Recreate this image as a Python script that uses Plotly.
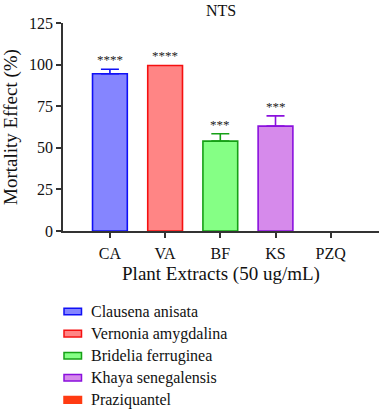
import plotly.graph_objects as go

categories = ["CA", "VA", "BF", "KS", "PZQ"]
names = ["Clausena anisata", "Vernonia amygdalina", "Bridelia ferruginea",
         "Khaya senegalensis", "Praziquantel"]
values = [94.5, 99.5, 54.0, 63.0, 0.0]
errors = [2.7, 0.0, 4.4, 6.2, 0.0]
stars = ["****", "****", "***", "***", ""]
fills = ["#8585FF", "#FF8585", "#85FF85", "#D68AEB", "#FF3B12"]
lines = ["#1010F5", "#F51010", "#16A016", "#8A10DD", "#FF3B12"]
y_ticks = [0, 25, 50, 75, 100, 125]

FONT = "Liberation Serif, Times New Roman, serif"
W, H = 379, 410
ML, MR, MT, MB = 63, 0, 23, 179
PW, PH = W - ML - MR, H - MT - MB

def px_x(px):
    return (px - ML) / PW

def px_y(py):
    return (H - MB - py) / PH

fig = go.Figure()
for i, c in enumerate(categories):
    fig.add_trace(go.Bar(
        x=[c], y=[values[i]], name=names[i], width=0.63,
        marker=dict(color=fills[i],
                    line=dict(color=lines[i], width=1.6 if values[i] > 0 else 0)),
        error_y=dict(type="data", array=[errors[i]], arrayminus=[0],
                     color=lines[i], thickness=1.6, width=9,
                     visible=errors[i] > 0),
        showlegend=False,
    ))
    if stars[i]:
        fig.add_annotation(x=c, y=values[i] + errors[i], text=stars[i],
                           showarrow=False, yanchor="bottom", yshift=0,
                           font=dict(family=FONT, size=13, color="#222"))

# custom legend
for i, n in enumerate(names):
    cy = 311.5 + i * 22.1
    fig.add_shape(type="rect", xref="paper", yref="paper",
                  x0=px_x(64), x1=px_x(81.5), y0=px_y(cy - 3.3), y1=px_y(cy + 3.3),
                  fillcolor=fills[i], line=dict(color=lines[i], width=1.5))
    fig.add_annotation(xref="paper", yref="paper", x=px_x(89), y=px_y(cy),
                       text=n, showarrow=False, xanchor="left", yanchor="middle",
                       font=dict(family=FONT, size=16, color="#111"))

# x-axis line extension to the left (GraphPad style)
fig.add_shape(type="line", xref="paper", yref="paper",
              x0=px_x(57.5), x1=0, y0=0, y1=0,
              line=dict(color="#333", width=1.5))

fig.update_layout(
    width=W, height=H, margin=dict(l=ML, r=MR, t=MT, b=MB),
    plot_bgcolor="white", paper_bgcolor="white",
    barmode="overlay",
    font=dict(family=FONT, size=16, color="#111"),
    title=dict(text="NTS", x=px_x(221) * PW / W + ML / W, xanchor="center",
               y=1 - 10 / H, yanchor="middle", font=dict(size=16)),
    xaxis=dict(range=[-0.85, 4.875], showline=True, linecolor="#333", linewidth=1.5,
               ticks="outside", ticklen=5, tickwidth=1.5, tickcolor="#333",
               ticklabelstandoff=2,
               title=dict(text="Plant Extracts (50 ug/mL)", standoff=6),
               showgrid=False, zeroline=False),
    yaxis=dict(range=[0, 125], tickvals=y_ticks, showline=True, linecolor="#333",
               linewidth=1.5, ticks="outside", ticklen=5, tickwidth=1.5,
               tickcolor="#333", title=dict(text="Mortality Effect (%)", standoff=8),
               showgrid=False, zeroline=False),
)

fig.write_html("out.html")
